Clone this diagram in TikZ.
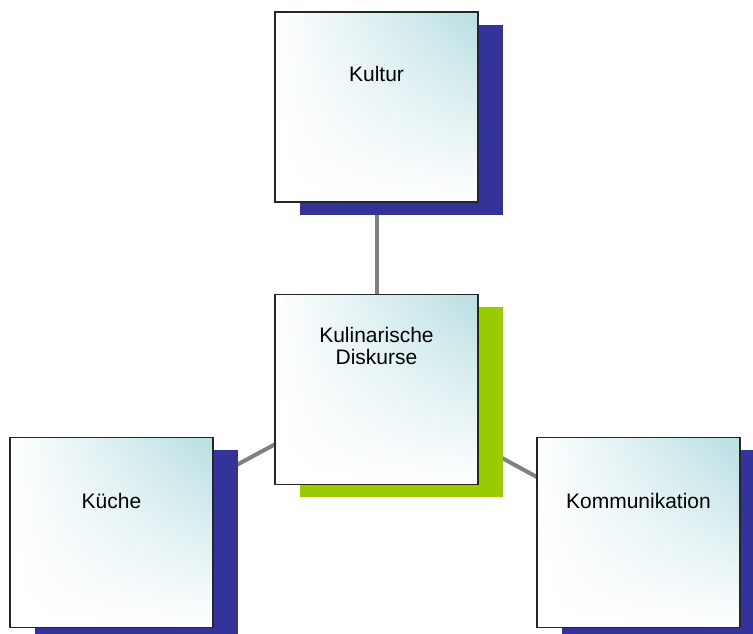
\documentclass[tikz,border=0pt]{standalone}
\usepackage{fontspec}
\setmainfont{Liberation Sans}
\usetikzlibrary{shadows,shadings,backgrounds}
\definecolor{shadowblue}{HTML}{333399}
\definecolor{shadowgreen}{HTML}{99CC00}
\definecolor{tealtint}{RGB}{184,222,226}
\definecolor{linkgray}{HTML}{808080}
\tikzset{
  card/.style={draw=black!85, line width=1.3pt,
    minimum width=203pt, minimum height=190pt, inner sep=0pt,
    upper left=white, upper right=tealtint, lower left=white, lower right=white,
    general shadow={fill=#1, shadow xshift=25pt, shadow yshift=-13pt}},
  cardtext/.style={font=\fontsize{21}{22}\selectfont, align=center, inner sep=0pt},
  link/.style={draw=linkgray, line width=4pt}
}
\begin{document}
\begin{tikzpicture}[x=1pt,y=1pt]
  \useasboundingbox (0,0) rectangle (753,634);
  % cards with offset shadows
  \node[card=shadowblue]  (kultur) at (376.5,527)   {};
  \node[card=shadowgreen] (center) at (376.5,244.5) {};
  \node[card=shadowblue]  (kueche) at (111.5,101.5) {};
  \node[card=shadowblue]  (komm)   at (638.5,101.5) {};
  % labels in the upper part of each card
  \node[cardtext] (kultur-t) at ([yshift=-63]kultur.north) {Kultur};
  \node[cardtext] (center-t) at ([yshift=-52]center.north) {Kulinarische\\Diskurse};
  \node[cardtext] (kueche-t) at ([yshift=-64]kueche.north) {Küche};
  \node[cardtext] (komm-t)   at ([yshift=-64]komm.north)   {Kommunikation};
  % connectors run behind the cards and their shadows
  \begin{pgfonlayer}{background}
    \draw[link] (center.center) -- (kultur.center);
    \draw[link] (center.center) -- (kueche.center);
    \draw[link] (center.center) -- (komm.center);
  \end{pgfonlayer}
\end{tikzpicture}
\end{document}
